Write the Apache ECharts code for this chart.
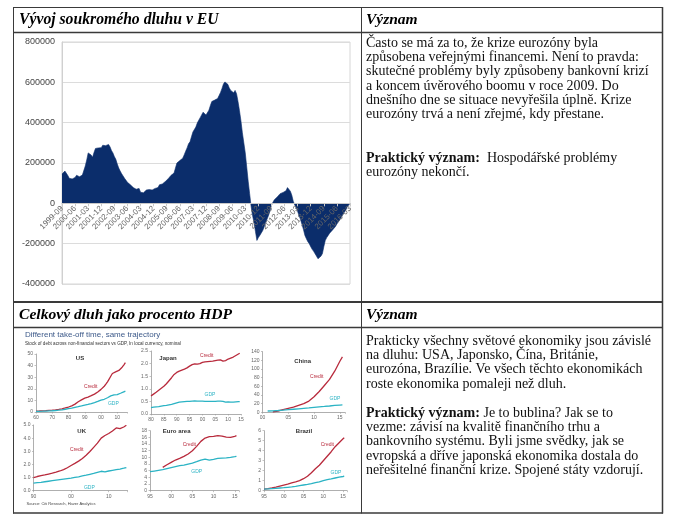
<!DOCTYPE html>
<html><head><meta charset="utf-8">
<script src="https://cdn.jsdelivr.net/npm/echarts@6/dist/echarts.min.js"></script>
<style>html,body{margin:0;padding:0;background:#fff}#c{width:680px;height:529px}</style>
</head><body><div id="c"></div>
<script>
// ---------- Data: private debt flow in EU (monthly, 1999-09 .. 2016-03) ----------
const debtStart = [1999, 9];
const debtMonthCount = 199;
const debtValues = [
 145000,152000,160000,155000,
 138000,124000,118000,121000,120000,128000,139000,136000,132000,134000,140000,146000,
 185000,215000,250000,258000,240000,228000,252000,272000,280000,275000,268000,276000,
 288000,282000,286000,290000,292000,280000,262000,250000,232000,218000,195000,175000,
 160000,147000,138000,124000,116000,104000,98000,92000,86000,78000,72000,70000,
 68000,74000,55000,48000,52000,58000,66000,74000,68000,62000,66000,72000,
 74000,70000,78000,92000,98000,96000,104000,108000,116000,122000,130000,139000,
 145000,150000,158000,200000,208000,212000,218000,224000,240000,258000,275000,295000,
 305000,330000,354000,360000,378000,398000,412000,425000,432000,452000,446000,438000,
 445000,462000,485000,505000,508000,512000,506000,520000,535000,550000,570000,592000,
 602000,598000,590000,572000,560000,552000,548000,560000,544000,505000,460000,410000,
 350000,300000,250000,180000,110000,48000,-15000,-60000,-95000,-140000,-184000,-170000,
 -159000,-150000,-135000,-117000,-95000,-78000,-60000,-38000,-10000,5000,18000,26000,
 32000,40000,48000,52000,54000,58000,62000,78000,81000,60000,40000,10000,
 -8000,-22000,-40000,-62000,-80000,-105000,-130000,-159000,-175000,-190000,-200000,-215000,
 -228000,-238000,-246000,-262000,-275000,-268000,-262000,-250000,-215000,-184000,-170000,-159000,
 -148000,-140000,-132000,-126000,-115000,-102000,-92000,-84000,-70000,-56000,-45000,-35000,
 -20000,-10000,0
];
const debtMonths = [];
{ let y = debtStart[0], m = debtStart[1];
  while (debtMonths.length < debtMonthCount) { debtMonths.push(y + '-' + String(m).padStart(2,'0')); m++; if (m > 12) { m = 1; y++; } } }
const debtTicks = [-400000, 800000, 200000]; // min, max, step

// ---------- Data: credit vs GDP panels ----------
const usYears = [1960,1961,1962,1963,1964,1965,1966,1967,1968,1969,1970,1971,1972,1973,1974,1975,1976,1977,1978,1979,1980,1981,1982,1983,1984,1985,1986,1987,1988,1989,1990,1991,1992,1993,1994,1995,1996,1997,1998,1999,2000,2001,2002,2003,2004,2005,2006,2007,2008,2009,2010,2011,2012,2013,2014,2015];
const usCredit = [0.8,0.85,0.9,1.0,1.05,1.1,1.2,1.3,1.4,1.5,1.6,1.75,1.9,2.1,2.3,2.5,2.75,3.1,3.5,3.9,4.3,4.8,5.3,5.9,6.8,7.8,8.8,9.6,10.4,11.2,11.9,12.4,12.9,13.5,14.1,14.7,15.4,16.2,17.3,18.5,19.5,20.8,22.2,24.0,26.0,28.4,30.8,33.2,34.3,34.6,35.0,35.8,37.2,38.6,40.5,42.5];
const usGdp = [0.54,0.56,0.6,0.64,0.68,0.74,0.8,0.85,0.94,1.02,1.08,1.17,1.28,1.43,1.55,1.69,1.88,2.09,2.36,2.63,2.86,3.21,3.34,3.64,4.04,4.34,4.58,4.86,5.25,5.66,5.98,6.17,6.54,6.88,7.31,7.66,8.1,8.61,9.09,9.66,10.28,10.62,10.98,11.51,12.27,13.09,13.86,14.48,14.72,14.42,14.96,15.52,16.16,16.69,17.39,18.0];

const jpYears = [1980,1981,1982,1983,1984,1985,1986,1987,1988,1989,1990,1991,1992,1993,1994,1995,1996,1997,1998,1999,2000,2001,2002,2003,2004,2005,2006,2007,2008,2009,2010,2011,2012,2013,2014,2014.5];
const jpCredit = [0.72,0.79,0.86,0.94,1.02,1.10,1.2,1.32,1.44,1.57,1.65,1.7,1.74,1.78,1.83,1.9,1.96,1.99,1.98,2.0,2.05,2.07,2.08,2.09,2.1,2.12,2.14,2.15,2.1,2.12,2.18,2.22,2.26,2.32,2.38,2.41];
const jpGdp = [0.25,0.27,0.28,0.29,0.31,0.33,0.34,0.36,0.38,0.41,0.44,0.47,0.48,0.49,0.5,0.5,0.51,0.52,0.51,0.51,0.51,0.5,0.5,0.5,0.5,0.5,0.51,0.51,0.5,0.47,0.48,0.47,0.47,0.48,0.49,0.49];

const cnCreditYears = [2002,2003,2004,2005,2006,2007,2008,2009,2010,2011,2012,2013,2014,2015,2015.5];
const cnCredit = [1,3,6,9,12,16,20,26,36,48,62,76,95,118,128];
const cnGdpYears = [2001,2002,2003,2004,2005,2006,2007,2008,2009,2010,2011,2012,2013,2014,2015,2015.5];
const cnGdp = [3,3.5,4.2,5,6,7,8,9,10,11.3,12.5,13.5,14.6,15.8,16.8,17];

const ukYears = [1990,1991,1992,1993,1994,1995,1996,1997,1998,1999,2000,2001,2002,2003,2004,2005,2006,2007,2008,2009,2010,2011,2012,2013,2014,2014.7];
const ukCredit = [1.0,1.08,1.14,1.2,1.27,1.33,1.41,1.5,1.6,1.75,1.92,2.08,2.25,2.45,2.7,2.98,3.3,3.62,4.0,4.2,4.35,4.55,4.78,4.72,4.85,4.98];
const ukGdp = [0.58,0.61,0.64,0.68,0.72,0.76,0.8,0.84,0.88,0.92,0.96,1.01,1.06,1.12,1.18,1.25,1.32,1.4,1.48,1.44,1.5,1.55,1.6,1.65,1.71,1.76];

const euCreditYears = [1998,1999,2000,2001,2002,2003,2004,2005,2006,2007,2008,2009,2010,2011,2012,2013,2014,2015,2015.4];
const euCredit = [7.0,7.8,8.5,9.2,9.7,10.3,11.0,12.0,13.3,14.8,15.8,16.2,16.3,16.5,16.4,16.1,16.0,16.3,16.5];
const euGdpYears = [1995,1996,1997,1998,1999,2000,2001,2002,2003,2004,2005,2006,2007,2008,2009,2010,2011,2012,2013,2014,2015,2015.4];
const euGdp = [5.7,5.9,6.1,6.3,6.6,6.9,7.2,7.5,7.7,8.0,8.3,8.7,9.2,9.5,9.2,9.4,9.7,9.8,9.85,10.0,10.2,10.3];

const brYears = [1995,1996,1997,1998,1999,2000,2001,2002,2003,2004,2005,2006,2007,2008,2009,2010,2011,2012,2013,2014,2015,2015.3];
const brCredit = [0.15,0.2,0.27,0.35,0.45,0.55,0.65,0.78,0.88,1.0,1.2,1.45,1.8,2.2,2.55,3.0,3.45,3.9,4.4,4.8,5.2,5.3];
const brGdp = [0.15,0.18,0.21,0.24,0.27,0.3,0.34,0.38,0.43,0.5,0.57,0.63,0.7,0.8,0.88,1.0,1.1,1.18,1.27,1.36,1.42,1.45];

// ---------- Text ----------
const head1 = 'Vývoj soukromého dluhu v EU';
const head2 = 'Celkový dluh jako procento HDP';
const headV = 'Význam';
const para1 = ['Často se má za to, že krize eurozóny byla','způsobena veřejnými financemi. Není to pravda:','skutečné problémy byly způsobeny bankovní krizí','a koncem úvěrového boomu v roce 2009. Do','dnešního dne se situace nevyřešila úplně. Krize','eurozóny trvá a není zřejmé, kdy přestane.'];
const para2 = ['{b|Praktický význam:}  Hospodářské problémy','eurozóny nekončí.'];
const para3 = ['Prakticky všechny světové ekonomiky jsou závislé','na dluhu: USA, Japonsko, Čína, Británie,','eurozóna, Brazílie. Ve všech těchto ekonomikách','roste ekonomika pomaleji než dluh.'];
const para4 = ['{b|Praktický význam:} Je to bublina? Jak se to','vezme: závisí na kvalitě finančního trhu a','bankovního systému. Byli jsme svědky, jak se','evropská a dříve japonská ekonomika dostala do','neřešitelné finanční krize. Spojené státy vzdorují.'];

const zip = (a, b) => a.map((v, i) => [v, b[i]]);
const RED = '#b82a3c', CYAN = '#2bb3c4';
const SERIF = '"Liberation Serif", "Times New Roman", serif';
const SANS = '"Liberation Sans", Arial, sans-serif';

const panels = [
  {name:'US', left:36, top:354, width:91, height:58, xmin:1960, xmax:2016, xstep:10, ymax:50, ystep:10, dec:0,
   credit:zip(usYears,usCredit), gdp:zip(usYears,usGdp), lab:[80,358], cl:[90.7,386.7], gl:[113.3,404]},
  {name:'Japan', left:151, top:351, width:90, height:63, xmin:1980, xmax:2015, xstep:5, ymax:2.5, ystep:0.5, dec:1,
   credit:zip(jpYears,jpCredit), gdp:zip(jpYears,jpGdp), lab:[168,358], cl:[206.7,355.7], gl:[210,394.3]},
  {name:'China', left:262.5, top:351.7, width:82.5, height:60.6, xmin:2000, xmax:2016, xstep:5, ymax:140, ystep:20, dec:0,
   credit:zip(cnCreditYears,cnCredit), gdp:zip(cnGdpYears,cnGdp), lab:[302.7,361], cl:[316.7,376.7], gl:[335,399]},
  {name:'UK', left:33.5, top:425, width:94, height:65.7, xmin:1990, xmax:2015, xstep:10, ymax:5, ystep:1, dec:1,
   credit:zip(ukYears,ukCredit), gdp:zip(ukYears,ukGdp), lab:[81.7,431.7], cl:[76.7,449.3], gl:[89.3,487.3]},
  {name:'Euro area', left:150, top:430.7, width:89, height:60, xmin:1995, xmax:2016, xstep:5, ymax:18, ystep:2, dec:0,
   credit:zip(euCreditYears,euCredit), gdp:zip(euGdpYears,euGdp), lab:[176.7,431.7], cl:[189.3,445], gl:[196.7,471.7]},
  {name:'Brazil', left:264, top:430.7, width:83, height:60, xmin:1995, xmax:2016, xstep:5, ymax:6, ystep:1, dec:0,
   credit:zip(brYears,brCredit), gdp:zip(brYears,brGdp), lab:[304,431.7], cl:[327.3,445], gl:[336,472.3]}
];

// main chart geometry
const MAIN = {left:62, top:42, width:288, height:242};
const zeroOffset = -MAIN.height * (0 - debtTicks[0]) / (debtTicks[1] - debtTicks[0]);

const grids = [{left:MAIN.left, top:MAIN.top, width:MAIN.width, height:MAIN.height, show:true, borderColor:'#d6d6d6', borderWidth:1}];
const xAxes = [{
  type:'category', data:debtMonths, boundaryGap:false, gridIndex:0, position:'bottom', offset:zeroOffset, z:5,
  axisLine:{onZero:false, lineStyle:{color:'#c8c8c8'}},
  axisTick:{show:true, interval:8, length:3, lineStyle:{color:'#c8c8c8'}},
  axisLabel:{interval:8, rotate:45, fontSize:8, color:'#666', fontFamily:SANS, margin:4},
  splitLine:{show:false}
}];
const yAxes = [{
  type:'value', gridIndex:0, min:debtTicks[0], max:debtTicks[1], interval:debtTicks[2],
  axisLine:{show:true, onZero:false, lineStyle:{color:'#d0d0d0'}}, axisTick:{show:false},
  axisLabel:{fontSize:9, color:'#444', fontFamily:SANS, margin:7, formatter:v => String(v)},
  splitLine:{lineStyle:{color:'#dcdcdc'}}
}];
const series = [{
  type:'line', data:debtValues, xAxisIndex:0, yAxisIndex:0, symbol:'none', z:2,
  lineStyle:{width:0.6, color:'#0b2d6b'}, itemStyle:{color:'#0b2d6b'},
  areaStyle:{color:'#0b2d6b', opacity:1, origin:0}, silent:true, animation:false
}];

const graphic = [];
const txt = (x, y, text, font, fill, align, extra) => graphic.push(Object.assign({
  type:'text', x:x, y:y, silent:true,
  style:{text:text, font:font, fill:fill, textAlign:align||'left', align:align||'left', textVerticalAlign:'middle', verticalAlign:'middle'}
}, extra||{}));

panels.forEach((p, k) => {
  const gi = k + 1;
  grids.push({left:p.left, top:p.top, width:p.width, height:p.height});
  const step = p.xstep;
  xAxes.push({type:'value', gridIndex:gi, min:p.xmin, max:p.xmax, interval:step,
    axisLine:{onZero:false, lineStyle:{color:'#9a9a9a', width:0.8}},
    axisTick:{show:true, length:1.5, lineStyle:{color:'#9a9a9a', width:0.6}},
    axisLabel:{fontSize:5, color:'#666', fontFamily:SANS, margin:3, showMaxLabel:true,
      formatter:v => (Math.round(v) % step === 0) ? String(Math.round(v) % 100).padStart(2,'0') : ''},
    splitLine:{show:false}});
  yAxes.push({type:'value', gridIndex:gi, min:0, max:p.ymax, interval:p.ystep,
    axisLine:{show:true, onZero:false, lineStyle:{color:'#9a9a9a', width:0.8}},
    axisTick:{show:true, length:1.5, lineStyle:{color:'#9a9a9a', width:0.6}},
    axisLabel:{fontSize:5, color:'#666', fontFamily:SANS, margin:3, formatter:v => v.toFixed(p.dec)},
    splitLine:{show:false}});
  series.push({type:'line', xAxisIndex:gi, yAxisIndex:gi, data:p.credit, symbol:'none', silent:true, animation:false,
    lineStyle:{color:RED, width:1.3}});
  series.push({type:'line', xAxisIndex:gi, yAxisIndex:gi, data:p.gdp, symbol:'none', silent:true, animation:false,
    lineStyle:{color:CYAN, width:1.3}});
  txt(p.lab[0], p.lab[1], p.name, 'bold 6px ' + SANS, '#333', 'center');
  txt(p.cl[0], p.cl[1], 'Credit', '5px ' + SANS, RED, 'center');
  txt(p.gl[0], p.gl[1], 'GDP', '5px ' + SANS, CYAN, 'center');
});

// table lines
const L = (x1, y1, x2, y2, w) => graphic.push({type:'line', silent:true, shape:{x1, y1, x2, y2}, style:{stroke:'#3a3a3a', lineWidth:w||1}});
L(13, 7.5, 663, 7.5, 1);
L(13, 32.5, 663, 32.5, 1.5);
L(13, 302, 663, 302, 2);
L(13, 327.5, 663, 327.5, 1.5);
L(13, 513, 663, 513, 1.5);
L(13.5, 7, 13.5, 513.5, 1);
L(361.5, 7, 361.5, 513.5, 1);
L(662.5, 7, 662.5, 513.5, 1.5);

txt(19, 20, head1, 'italic bold 15.7px ' + SERIF, '#000');
txt(366, 20, headV, 'italic bold 15.5px ' + SERIF, '#000');
txt(19, 315, head2, 'italic bold 15.6px ' + SERIF, '#000');
txt(366, 315, headV, 'italic bold 15.5px ' + SERIF, '#000');

const para = (x, y, lines) => graphic.push({type:'text', x:x, y:y, silent:true,
  style:{text:lines.join('\n'), fontFamily:SERIF, fontSize:14, lineHeight:14.3, fill:'#111',
    textVerticalAlign:'top', verticalAlign:'top',
    rich:{b:{fontFamily:SERIF, fontSize:14, fontWeight:'bold', lineHeight:14.3, fill:'#111'}}}});
para(366, 36, para1);
para(366, 151, para2);
para(366, 334, para3);
para(366, 406, para4);

txt(25, 335, 'Different take-off time, same trajectory', '8px ' + SANS, '#3d5a8a');
txt(25, 343.3, 'Stock of debt across non-financial sectors vs GDP, In local currency, nominal', '4.6px ' + SANS, '#333');
txt(26.5, 504.3, 'Source: Citi Research, Haver Analytics', '4px ' + SANS, '#444');

const chart = echarts.init(document.getElementById('c'), null, {renderer:'canvas'});
chart.setOption({
  backgroundColor:'#fff', animation:false,
  grid:grids, xAxis:xAxes, yAxis:yAxes, series:series, graphic:graphic
});
</script></body></html>
